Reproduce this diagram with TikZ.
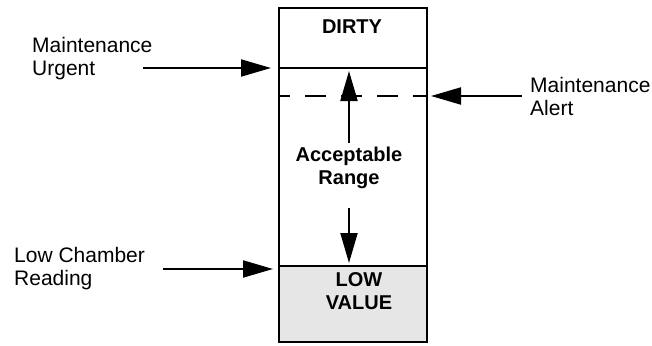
\documentclass[tikz,border=0pt]{standalone}
\usepackage{fontspec}
\setmainfont{Liberation Sans}
\usetikzlibrary{arrows.meta}
\definecolor{lowgray}{HTML}{E6E6E6}
\tikzset{
  region/.style={draw=black, line width=2.5pt, minimum width=148pt, anchor=north west, inner sep=0pt, outer sep=0pt},
  lbl/.style={font=\fontsize{21}{23.5}\selectfont, align=left, anchor=north west, inner sep=0pt},
  blbl/.style={font=\fontsize{20}{23}\selectfont\bfseries, align=center, anchor=north, inner sep=0pt},
  arr/.style={line width=2pt, -{Triangle[length=30pt,width=17pt]}},
}
\begin{document}
\begin{tikzpicture}[x=1pt,y=-1pt]
\useasboundingbox (0,0) rectangle (652,345);
% regions of the gauge
\node[region, minimum height=60pt] (dirty) at (279,8) {};
\node[region, minimum height=198pt] (range) at (279,68) {};
\node[region, minimum height=76pt, fill=lowgray] (low) at (279,266) {};
% dashed alert level
\coordinate (dashL) at (279,96);
\coordinate (dashR) at (427,96);
\draw[line width=2.2pt, dash pattern=on 21pt off 15pt, dash phase=10pt] (dashL) -- (dashR);
% box labels
\node[blbl] (tdirty) at (352,20) {DIRTY};
\node[blbl] (trange) at (349,147) {Acceptable\\Range};
\node[blbl] (tlow) at (359,272) {LOW\\VALUE};
% range arrows
\coordinate (upS) at (349,143);
\coordinate (upE) at (349,71);
\coordinate (dnS) at (349,208);
\coordinate (dnE) at (349,263);
\draw[arr] (upS) -- (upE);
\draw[arr] (dnS) -- (dnE);
% side labels
\node[lbl] (urgent) at (32,37) {Maintenance\\Urgent};
\node[lbl] (alert) at (530,77) {Maintenance\\Alert};
\node[lbl] (lowread) at (14,247) {Low Chamber\\Reading};
% side arrows
\coordinate (urgS) at (143,68);
\coordinate (alS) at (522,96);
\coordinate (lowS) at (163,269);
\draw[arr] (urgS) -- ([xshift=-8pt]dirty.south west);
\draw[arr] (alS) -- ([xshift=4pt]dashR);
\draw[arr] (lowS) -- ([xshift=-6pt]low.north west |- lowS);
\end{tikzpicture}
\end{document}
